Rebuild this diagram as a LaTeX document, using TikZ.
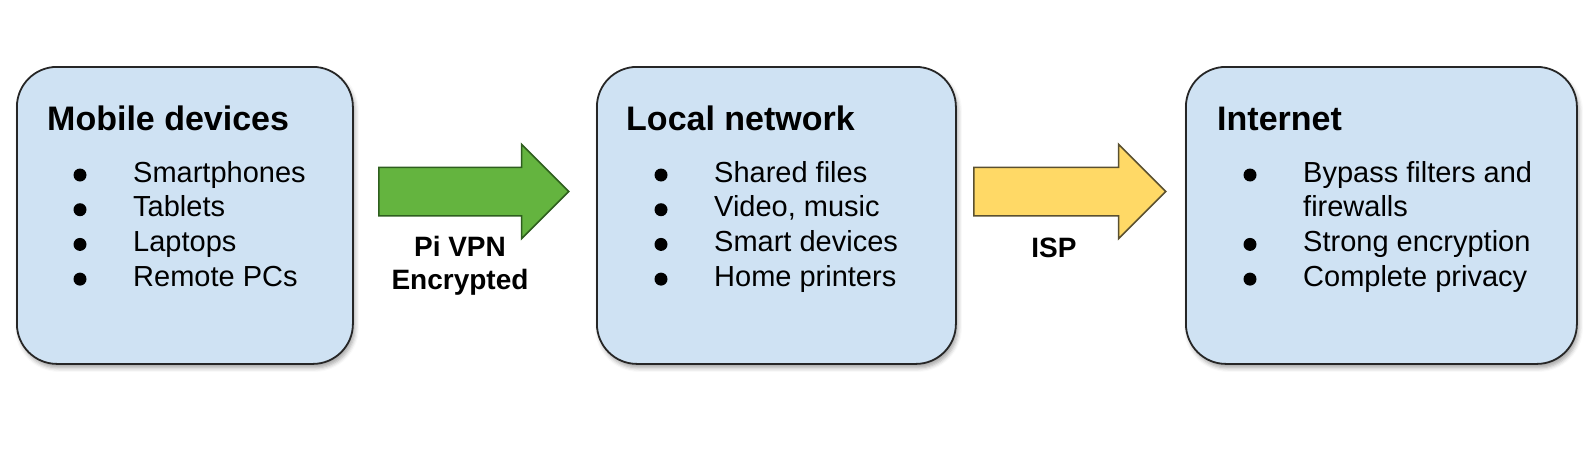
\documentclass[tikz,border=0pt]{standalone}
\usepackage{fontspec}
\setmainfont{Liberation Sans}
\usetikzlibrary{shapes.arrows,shadows.blur}
\definecolor{boxfill}{HTML}{CFE2F3}
\definecolor{boxline}{HTML}{262626}
\definecolor{greenfill}{HTML}{64B43F}
\definecolor{greenline}{HTML}{2E5E1E}
\definecolor{yellowfill}{HTML}{FFD966}
\definecolor{yellowline}{HTML}{5A5030}
\tikzset{
 panel/.style={draw=boxline, line width=1.8pt, fill=boxfill, rounded corners=40pt, anchor=north west, inner sep=0pt,
   blur shadow={shadow xshift=2pt, shadow yshift=-4pt, shadow blur radius=4pt, shadow opacity=35}},
 paneltitle/.style={anchor=base west, font=\bfseries\fontsize{34}{36}\selectfont, inner sep=0pt},
 item/.style={anchor=base west, font=\fontsize{29}{34.7}\selectfont, inner sep=0pt},
 dot/.style={circle, fill=black, inner sep=0pt, minimum size=13pt},
 bigarrow/.style={single arrow, single arrow head extend=23pt, minimum width=93pt, minimum height=190pt,
   line width=1.5pt, anchor=west, inner xsep=0pt, inner ysep=23.5pt, shape border rotate=0},
 lbl/.style={font=\bfseries\fontsize{28}{33}\selectfont, align=center, inner sep=0pt}
}
\begin{document}
\begin{tikzpicture}[x=1pt,y=-1pt]
\useasboundingbox (0,0) rectangle (1592,450);
% panels
\node[panel, minimum width=336pt, minimum height=297pt] (mobile) at (16,66) {};
\node[panel, minimum width=359pt, minimum height=297pt] (local) at (596,66) {};
\node[panel, minimum width=391pt, minimum height=297pt] (inet) at (1185,66) {};
% titles
\node[paneltitle] (t1) at (47,130) {Mobile devices};
\node[paneltitle] (t2) at (626,130) {Local network};
\node[paneltitle] (t3) at (1217,130) {Internet};
% items
\foreach \txt [count=\i] in {Smartphones,Tablets,Laptops,Remote PCs}{
  \pgfmathsetmacro{\yb}{182+34.7*(\i-1)}
  \node[dot] (ma\i) at (80,\yb-7) {};
  \node[item] (m\i) at (133,\yb) {\txt};
}
\foreach \txt [count=\i] in {Shared files,{Video, music},Smart devices,Home printers}{
  \pgfmathsetmacro{\yb}{182+34.7*(\i-1)}
  \node[dot] (la\i) at (661,\yb-7) {};
  \node[item] (l\i) at (714,\yb) {\txt};
}
\node[dot] (ia1) at (1250,175) {};
\node[item] (i1) at (1303,182) {Bypass filters and};
\node[item] (i1b) at (1303,216.7) {firewalls};
\node[dot] (ia2) at (1250,244.4) {};
\node[item] (i2) at (1303,251.4) {Strong encryption};
\node[dot] (ia3) at (1250,279.1) {};
\node[item] (i3) at (1303,286.1) {Complete privacy};
% arrows
\node[bigarrow, fill=greenfill, draw=greenline] (vpn) at (378,191.5) {};
\node[bigarrow, fill=yellowfill, draw=yellowline, minimum height=192pt] (isp) at (973,191.5) {};
\node[lbl] (vpnlbl) at (460,266) {Pi VPN\\Encrypted};
\node[lbl, anchor=base] (isplbl) at (1054,257) {ISP};
\end{tikzpicture}
\end{document}
